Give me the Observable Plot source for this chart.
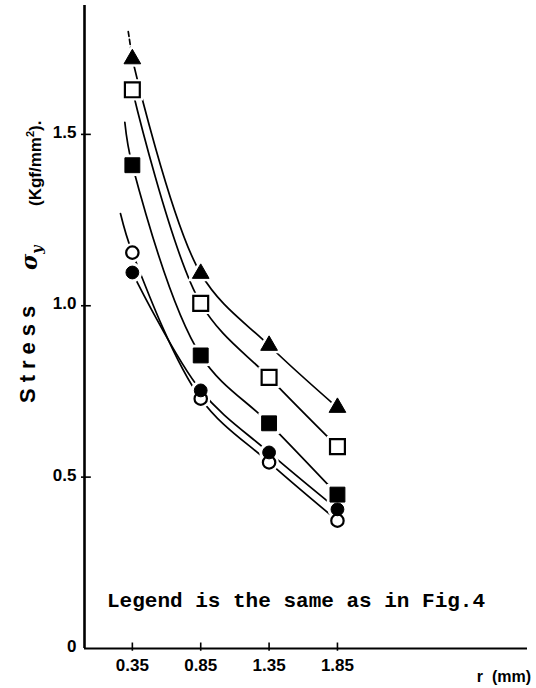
<!DOCTYPE html>
<html>
<head>
<meta charset="utf-8">
<script src="https://cdn.jsdelivr.net/npm/d3@7"></script>
<script src="https://cdn.jsdelivr.net/npm/@observablehq/plot@0.6"></script>
<style>
  html, body { margin: 0; padding: 0; background: #fff; }
  svg { display: block; }
</style>
</head>
<body>
<div id="chart"></div>
<script>
// ---- data ----
const rValues = [0.35, 0.85, 1.35, 1.85];
const triangleValues     = [1.72, 1.094, 0.884, 0.703];
const openSquareValues   = [1.63, 1.007, 0.791, 0.589];
const filledSquareValues = [1.41, 0.855, 0.657, 0.449];
const openCircleValues   = [1.155, 0.729, 0.543, 0.373];
const filledCircleValues = [1.097, 0.753, 0.572, 0.406];

// upper ends of the fitted curves (drawn above the first point)
const extSeries = ["filledSquare", "openCircle"];
const extR = [0.295, 0.263];
const extV = [1.535, 1.269];
const triangleExtR = [0.32, 0.35];
const triangleExtV = [1.80, 1.72];

const xTicks = [0.35, 0.85, 1.35, 1.85];
const xTickLabels = ["0.35", "0.85", "1.35", "1.85"];
const yTicks = [0, 0.5, 1.0, 1.5];
const yTickLabels = ["0", "0.5", "1.0", "1.5"];
const note = "Legend is the same as in Fig.4";

// ---- build tables ----
const seriesDefs = [
  {key: "triangle", values: triangleValues, symbol: "triangle", fill: "black", r: 6.2},
  {key: "openSquare", values: openSquareValues, symbol: "square", fill: "white", r: 8.4},
  {key: "filledSquare", values: filledSquareValues, symbol: "square", fill: "black", r: 8.4},
  {key: "openCircle", values: openCircleValues, symbol: "circle", fill: "white", r: 6.2},
  {key: "filledCircle", values: filledCircleValues, symbol: "circle", fill: "black", r: 6.4}
];

const points = [];
seriesDefs.forEach(s => s.values.forEach((v, i) => points.push({series: s.key, r: rValues[i], v})));

const curves = [];
seriesDefs.forEach(s => {
  const e = extSeries.indexOf(s.key);
  if (e >= 0) curves.push({series: s.key, r: extR[e], v: extV[e]});
  s.values.forEach((v, i) => curves.push({series: s.key, r: rValues[i], v}));
});
const triExt = triangleExtR.map((r, i) => ({r, v: triangleExtV[i]}));

const xMax = 3.24, yMax = 1.876;

const markerMarks = [];
seriesDefs.forEach(s => {
  const pts = points.filter(p => p.series === s.key);
  markerMarks.push(Plot.dot(pts, {x: "r", y: "v", symbol: () => s.symbol, r: s.r + 2.5, fill: "white", stroke: "white", strokeWidth: 2}));
});
seriesDefs.forEach(s => {
  const pts = points.filter(p => p.series === s.key);
  markerMarks.push(Plot.dot(pts, {x: "r", y: "v", symbol: () => s.symbol, r: s.r, fill: s.fill, stroke: "black", strokeWidth: s.fill === "white" ? 2.2 : 1}));
});

const tickFont = "'Liberation Sans Narrow', 'Liberation Sans', Arial, sans-serif";

const chart = Plot.plot({
  width: 536,
  height: 688,
  marginLeft: 84,
  marginRight: 9,
  marginTop: 5,
  marginBottom: 40,
  x: {domain: [0, xMax], axis: null},
  y: {domain: [0, yMax], axis: null},
  marks: [
    // curves
    Plot.line(curves, {x: "r", y: "v", z: "series", curve: "catmull-rom", stroke: "black", strokeWidth: 1.7}),
    Plot.line(triExt, {x: "r", y: "v", stroke: "black", strokeWidth: 1.7, strokeDasharray: "5,3"}),
    ...markerMarks,
    // axes
    Plot.ruleX([0], {y1: 0, y2: yMax, stroke: "black", strokeWidth: 2.6}),
    Plot.ruleY([0], {x1: 0, x2: xMax, stroke: "black", strokeWidth: 2}),
    Plot.ruleY(yTicks.filter(d => d > 0), {y: d => d, x1: -0.022, x2: 0.05, stroke: "black", strokeWidth: 1.6}),
    Plot.ruleX(xTicks, {x: d => d, y1: -0.008, y2: 0.016, stroke: "black", strokeWidth: 1.6}),
    Plot.text(yTicks, {x: 0, y: d => d, text: (d, i) => yTickLabels[i], dx: -8, dy: -2, textAnchor: "end", fontSize: 17, fontWeight: "bold", fontFamily: tickFont}),
    Plot.text(xTicks, {x: d => d, y: 0, text: (d, i) => xTickLabels[i], dy: 17, fontSize: 17, fontWeight: "bold", fontFamily: tickFont})
  ]
});

document.getElementById("chart").appendChild(chart);

const svg = d3.select(chart);
// note inside the frame
svg.append("text")
  .attr("x", 107).attr("y", 607)
  .attr("text-anchor", "start")
  .attr("font-family", "'Liberation Mono', 'DejaVu Sans Mono', monospace")
  .attr("font-weight", "bold").attr("font-size", 21)
  .attr("fill", "black")
  .text(note);

// x axis title
svg.append("text")
  .attr("x", 531).attr("y", 682).attr("text-anchor", "end")
  .attr("font-family", "'Liberation Sans', Arial, sans-serif")
  .attr("font-weight", "bold").attr("font-size", 16)
  .attr("fill", "black")
  .attr("xml:space", "preserve")
  .text("r  (mm)");

// y axis title (rotated pieces)
svg.append("text")
  .attr("transform", "translate(35,403) rotate(-90)")
  .attr("text-anchor", "start")
  .attr("font-family", "'Liberation Sans', Arial, sans-serif")
  .attr("font-weight", "bold").attr("font-size", 22)
  .attr("letter-spacing", 6)
  .attr("fill", "black")
  .text("Stress");

const sig = svg.append("text")
  .attr("transform", "translate(37,270) rotate(-90)")
  .attr("text-anchor", "start")
  .attr("font-family", "'DejaVu Serif', serif")
  .attr("font-style", "italic").attr("font-weight", "bold")
  .attr("fill", "black");
sig.append("tspan").attr("font-size", 22).text("σ");
sig.append("tspan").attr("font-size", 14).attr("dy", 5).text("y");

const unit = svg.append("text")
  .attr("transform", "translate(41,206) rotate(-90)")
  .attr("text-anchor", "start")
  .attr("font-family", "'Liberation Sans', Arial, sans-serif")
  .attr("font-weight", "bold").attr("font-size", 17)
  .attr("fill", "black");
unit.append("tspan").text("(Kgf/mm");
unit.append("tspan").attr("font-size", 11).attr("dy", -7).text("2");
unit.append("tspan").attr("dy", 7).text(").");
</script>
</body>
</html>
